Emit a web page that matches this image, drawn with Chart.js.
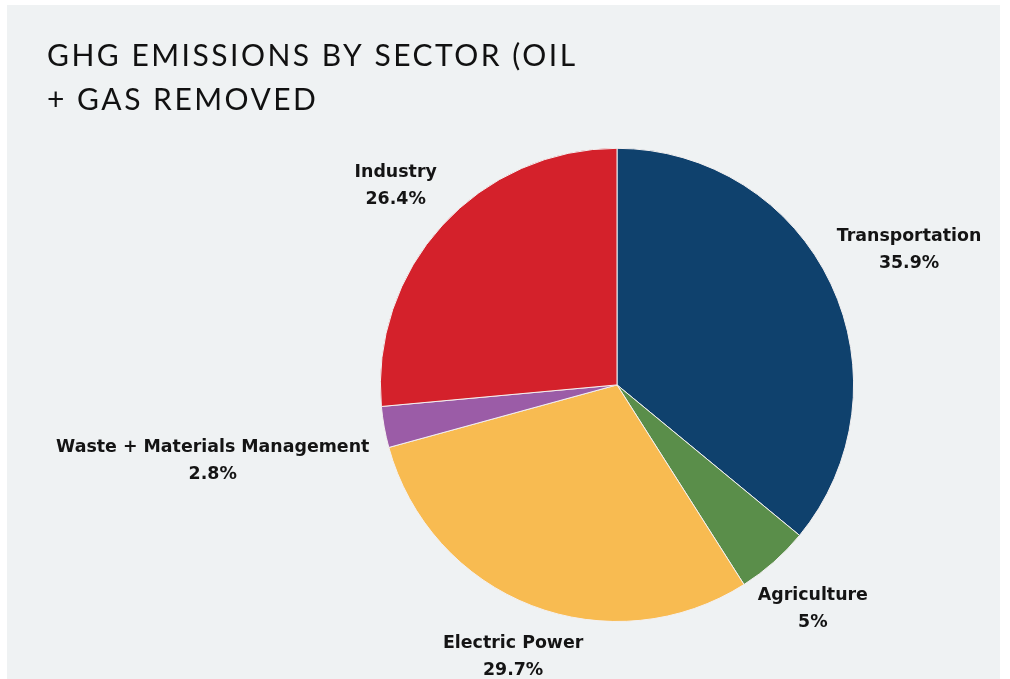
<!DOCTYPE html>
<html>
<head>
<meta charset="utf-8">
<title>GHG emissions by sector</title>
<script src="https://cdn.jsdelivr.net/npm/chart.js@4.4.1/dist/chart.umd.min.js"></script>
<style>
    html, body { margin: 0; padding: 0; background: #ffffff; overflow: hidden; }
    .panel {
        position: absolute; left: 7px; top: 5px; width: 993px; height: 674px;
        background: #eff2f3;
    }
    #sectorChart { position: absolute; left: 0; top: 0; }
</style>
</head>
<body>
<div class="panel"></div>
<canvas id="sectorChart" width="1234" height="679"></canvas>
<script>
// 부문별 온실가스 배출 비중 (%)
const sectors = ['Transportation', 'Agriculture', 'Electric Power', 'Waste + Materials Management', 'Industry'];
const shares = [35.9, 5, 29.7, 2.8, 26.4];
const sectorColors = ['#0f416d', '#5a8e4a', '#f8bb51', '#9b5ca7', '#d4212b'];
const titleLines = ['GHG EMISSIONS BY SECTOR (OIL', '+ GAS REMOVED'];

// 제목만 자간을 넓혀서 그림 (제목 박스는 데이터셋보다 먼저 그려짐)
const titleSpacing = {
    id: 'titleSpacing',
    beforeDraw(chart, args, opts) { chart.ctx.letterSpacing = opts.spacing; },
    beforeDatasetsDraw(chart) { chart.ctx.letterSpacing = '0px'; }
};

// 조각 바깥쪽에 이름 + 비율 라벨 표시
// 라벨 박스 중심은 조각 중앙각 방향, 박스 가장자리가 원에서 gap 만큼 떨어지도록
const outerLabels = {
    id: 'outerLabels',
    afterDatasetsDraw(chart, args, opts) {
        const ctx = chart.ctx;
        const meta = chart.getDatasetMeta(0);
        const lineH = opts.lineHeight;
        ctx.save();
        ctx.letterSpacing = '0px';
        ctx.font = opts.font;
        ctx.fillStyle = opts.color;
        ctx.textAlign = 'center';
        ctx.textBaseline = 'middle';
        meta.data.forEach((arc, i) => {
            const lines = [sectors[i], shares[i] + '%'];
            const w = Math.max(...lines.map(t => ctx.measureText(t).width));
            const h = lineH * lines.length;
            const mid = (arc.startAngle + arc.endAngle) / 2;
            const vx = Math.cos(mid), vy = Math.sin(mid);
            const reach = Math.min(
                Math.abs(vx) > 1e-6 ? (w / 2) / Math.abs(vx) : Infinity,
                Math.abs(vy) > 1e-6 ? (h / 2) / Math.abs(vy) : Infinity
            );
            const d = arc.outerRadius + opts.gap + reach;
            const cx = arc.x + vx * d;
            const cy = arc.y + vy * d + opts.shiftY;
            lines.forEach((t, j) => {
                ctx.fillText(t, cx, cy - h / 2 + lineH * (j + 0.5));
            });
        });
        ctx.restore();
    }
};

const chart = new Chart(document.getElementById('sectorChart'), {
    type: 'pie',
    data: {
        labels: sectors,
        datasets: [{
            data: shares,
            backgroundColor: sectorColors,
            borderColor: '#f3f0f0',
            borderWidth: 1
        }]
    },
    options: {
        responsive: false,
        animation: false,
        layout: { padding: { top: 0, left: 47, right: 47, bottom: 57 } },
        plugins: {
            legend: { display: false },
            tooltip: { enabled: false },
            title: {
                display: true,
                text: titleLines,
                align: 'start',
                color: '#111111',
                font: { family: 'Lato', size: 30, weight: '400', lineHeight: 1.48 },
                padding: { top: 34, bottom: 25 }
            },
            titleSpacing: { spacing: '2.5px' },
            outerLabels: {
                font: 'bold 17.4px "DejaVu Sans"',
                color: '#141414',
                lineHeight: 27,
                gap: 23,
                shiftY: 3
            }
        }
    },
    plugins: [titleSpacing, outerLabels]
});
</script>
</body>
</html>
